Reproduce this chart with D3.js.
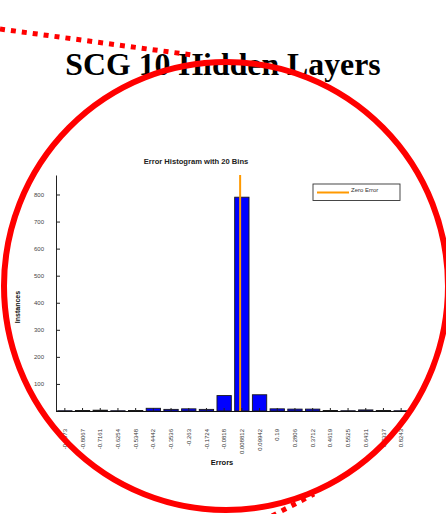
<!DOCTYPE html>
<html><head><meta charset="utf-8">
<script src="https://cdn.jsdelivr.net/npm/d3@7"></script>
<style>html,body{margin:0;padding:0;background:#fff;}svg{display:block;}</style>
</head><body>
<script>
const binLabels = ["-0.8973","-0.8067","-0.7161","-0.6254","-0.5348","-0.4442","-0.3536","-0.263","-0.1724","-0.0818","0.008812","0.09942","0.19","0.2806","0.3712","0.4619","0.5525","0.6431","0.7337","0.8243"];
const binCenters = binLabels.map(Number);
const counts = [1,2,3,1,2,10,6,8,6,57,790,60,8,7,7,2,1,4,2,1];
const yTicks = [0,100,200,300,400,500,600,700,800];
const zeroError = 0;
const yMax = 872;

(function () {
const W = 446, H = 514;
const svg = d3.select("body").append("svg").attr("width", W).attr("height", H);

// Title
svg.append("text").attr("x", 223).attr("y", 75).attr("text-anchor", "middle")
  .attr("font-family", "'Liberation Serif', 'Times New Roman', serif")
  .attr("font-weight", "bold").attr("font-size", 31.8).attr("fill", "#000")
  .text("SCG 10 Hidden Layers");

const mLeft = 56, mRight = 410, mTop = 175, mBottom = 411;
const x = d3.scaleBand().domain(binLabels).range([mLeft, mRight]).paddingInner(0.19).paddingOuter(0.095);
const y = d3.scaleLinear().domain([0, yMax]).range([mBottom, mTop]);
const bw = x.bandwidth();
const xv = d3.scaleLinear().domain([binCenters[0], binCenters[binCenters.length-1]])
  .range([x(binLabels[0]) + bw/2, x(binLabels[binLabels.length-1]) + bw/2]);

const sans = "'Liberation Sans', Arial, sans-serif";

// subtitle
svg.append("text").attr("x", 196).attr("y", 164).attr("text-anchor", "middle")
  .attr("font-family", sans).attr("font-weight", "bold").attr("font-size", 7.6).attr("fill", "#222")
  .text("Error Histogram with 20 Bins");

// bars
svg.append("g").selectAll("rect").data(counts).join("rect")
  .attr("x", (d, i) => x(binLabels[i]))
  .attr("y", d => y(d))
  .attr("width", bw)
  .attr("height", d => y(0) - y(d))
  .attr("fill", "#0000ff").attr("stroke", "#1a1a1a").attr("stroke-width", 0.9);

// zero error line
svg.append("line").attr("x1", xv(zeroError)).attr("x2", xv(zeroError))
  .attr("y1", y(yMax)).attr("y2", y(0))
  .attr("stroke", "#ff9900").attr("stroke-width", 2);

// y axis
const yAxis = d3.axisLeft(y).tickValues(yTicks).tickSizeInner(-4).tickSizeOuter(0).tickPadding(12);
const gy = svg.append("g").attr("transform", `translate(${mLeft},0)`).call(yAxis);
gy.select(".domain").attr("stroke", "#222");
gy.selectAll(".tick line").attr("stroke", "#222");
gy.selectAll(".tick text").attr("font-family", sans).attr("font-size", 6).attr("fill", "#444");

// x axis
const xAxis = d3.axisBottom(x).tickSizeInner(-3).tickSizeOuter(0).tickFormat("");
const gx = svg.append("g").attr("transform", `translate(0,${mBottom})`).call(xAxis);
gx.select(".domain").attr("stroke", "#111").attr("stroke-width", 1.2);
gx.selectAll(".tick line").attr("stroke", "#222");

svg.append("g").selectAll("text").data(binLabels).join("text")
  .attr("transform", d => `translate(${x(d) + bw/2},${429}) rotate(-90)`)
  .attr("text-anchor", "end").attr("dy", "0.35em")
  .attr("font-family", sans).attr("font-size", 6).attr("fill", "#333")
  .text(d => d);

// axis titles
svg.append("text").attr("x", 222).attr("y", 465).attr("text-anchor", "middle")
  .attr("font-family", sans).attr("font-weight", "bold").attr("font-size", 7.5).attr("fill", "#111")
  .text("Errors");
svg.append("text").attr("transform", "translate(20,307) rotate(-90)").attr("text-anchor", "middle")
  .attr("font-family", sans).attr("font-weight", "bold").attr("font-size", 7).attr("fill", "#111")
  .text("Instances");

// legend
const lg = svg.append("g");
lg.append("rect").attr("x", 313).attr("y", 184).attr("width", 87).attr("height", 16.5)
  .attr("fill", "#fff").attr("stroke", "#333").attr("stroke-width", 0.9);
lg.append("line").attr("x1", 317).attr("x2", 349).attr("y1", 192.5).attr("y2", 192.5)
  .attr("stroke", "#ff9900").attr("stroke-width", 2);
lg.append("text").attr("x", 351).attr("y", 192).attr("font-family", sans).attr("font-size", 6).attr("fill", "#333")
  .text("Zero Error");

// red annotations
svg.append("ellipse").attr("cx", 226).attr("cy", 286).attr("rx", 222).attr("ry", 224)
  .attr("fill", "none").attr("stroke", "#ff0000").attr("stroke-width", 6);
svg.append("line").attr("x1", 0).attr("y1", 29).attr("x2", 192).attr("y2", 55)
  .attr("stroke", "#ff0000").attr("stroke-width", 5).attr("stroke-dasharray", "5,6");
svg.append("line").attr("x1", 272).attr("y1", 516).attr("x2", 314).attr("y2", 494)
  .attr("stroke", "#ff0000").attr("stroke-width", 5).attr("stroke-dasharray", "5,6");
})();
</script>
</body></html>
